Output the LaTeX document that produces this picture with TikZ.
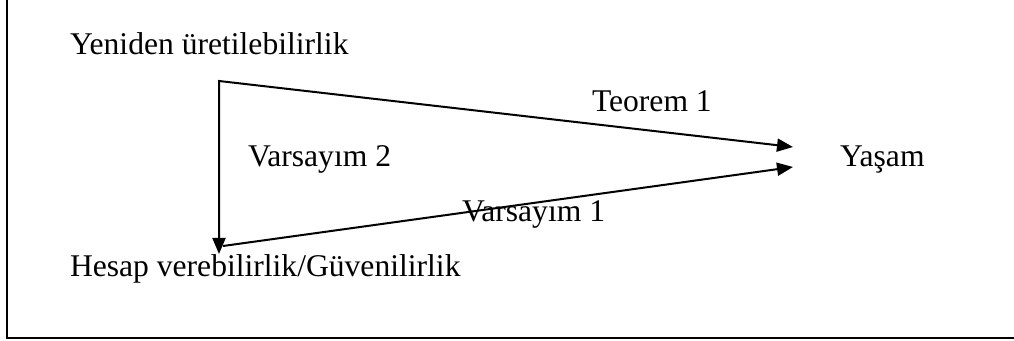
\documentclass[tikz,border=0pt]{standalone}
\usepackage{fontspec}
\setmainfont{Liberation Serif}
\usetikzlibrary{arrows.meta}
\begin{document}
\begin{tikzpicture}[x=0.5pt,y=-0.5pt,
  lbl/.style={anchor=base west,inner sep=0pt,outer sep=0pt,font=\fontsize{15.8pt}{19pt}\selectfont},
  conn/.style={line width=1pt,line join=miter},
  tip/.style={-{Triangle[length=8pt,width=6.5pt]}},
  tips/.style={{Triangle[length=8pt,width=6.5pt]}-{Triangle[length=8pt,width=6.5pt]}}]
\useasboundingbox (0,0) rectangle (1014,341);
% frame (left and bottom edges visible)
\coordinate (ftop) at (6.5,0);
\coordinate (fcorner) at (6.5,338.5);
\coordinate (fright) at (1014,338.5);
\draw[line width=1pt] (ftop) -- (fcorner) -- (fright);
% labels
\node[lbl] (yen) at (70,55) {Yeniden üretilebilirlik};
\node[lbl] (teo) at (592,112) {Teorem 1};
\node[lbl] (var2) at (248,167) {Varsayım 2};
\node[lbl] (yas) at (840,167) {Yaşam};
\node[lbl] (var1) at (462,222) {Varsayım 1};
\node[lbl] (hes) at (70,277) {Hesap verebilirlik/Güvenilirlik};
% connector points
\coordinate (corner) at (219,81);
\coordinate (hestip) at (219,254);
\coordinate (hesout) at (223,246);
\coordinate (yastip1) at (793,147);
\coordinate (yastip2) at (793,167);
% connectors
\draw[conn,tips] (hestip) -- (corner) -- (yastip1);
\draw[conn,tip] (hesout) -- (yastip2);
\end{tikzpicture}
\end{document}
